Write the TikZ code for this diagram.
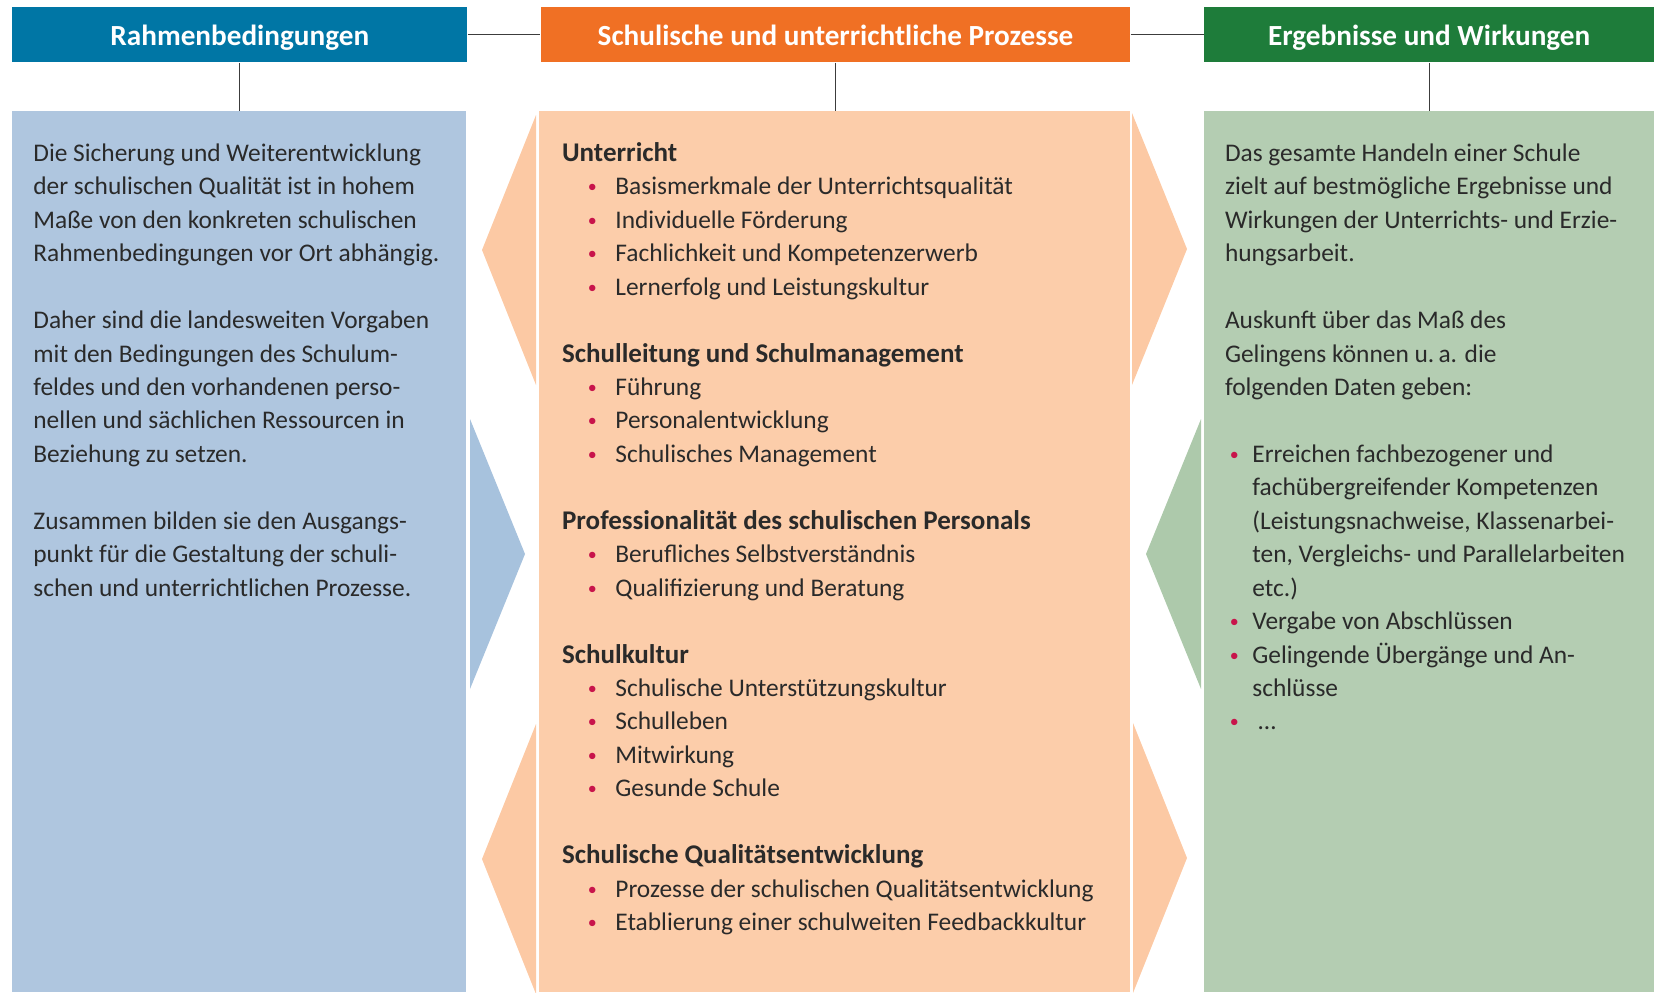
\documentclass[tikz,border=0pt]{standalone}
\usepackage{fontspec}
\setmainfont{Carlito}
\definecolor{hdrBlue}{RGB}{0,118,165}
\definecolor{hdrOrange}{RGB}{240,112,36}
\definecolor{hdrGreen}{RGB}{30,124,58}
\definecolor{bodyBlue}{RGB}{175,198,223}
\definecolor{bodyOrange}{RGB}{252,205,170}
\definecolor{bodyGreen}{RGB}{180,205,178}
\definecolor{arrBlue}{RGB}{167,194,221}
\definecolor{arrGreen}{RGB}{173,201,171}
\definecolor{arrOrange}{RGB}{252,201,164}
\definecolor{bul}{RGB}{200,20,75}
\definecolor{txtcol}{RGB}{42,42,42}
\definecolor{linecol}{RGB}{60,60,60}
% small coloured bullet centred at #1, item text starting at #2
\newcommand\blt[2]{\makebox[#2][l]{\makebox[2\dimexpr#1\relax][c]{\raisebox{1pt}{\fontsize{9}{8}\selectfont\textcolor{bul}{\textbullet}}}}}
% bold section heading
\newcommand\hd[1]{{\fontsize{13.5}{16.72}\selectfont\bfseries #1}}
\begin{document}
\begin{tikzpicture}[x=0.5pt,y=-0.5pt,
  hdr/.style={rectangle,inner sep=0pt,minimum height=27.5pt,text=white,
    text height=11.1pt,text depth=0.9pt,
    font=\fontsize{14.6}{16}\selectfont\bfseries},
  bodybox/.style={rectangle,inner sep=0pt,minimum height=440.5pt},
  conn/.style={draw=linecol,line width=0.6pt},
  txt/.style={anchor=north west,inner sep=0pt,align=left,text=txtcol,
    font=\fontsize{12.7}{16.72}\selectfont}]
\useasboundingbox (0,0) rectangle (1654,992);

% column bodies
\node[bodybox,fill=bodyBlue,minimum width=227.2pt] (bR) at (238.8,551.5) {};
\node[bodybox,fill=bodyOrange,minimum width=295.1pt] (bP) at (834.4,551.5) {};
\node[bodybox,fill=bodyGreen,minimum width=224.8pt] (bE) at (1429.2,551.5) {};

% arrow wedges between the columns
\fill[arrOrange] (536,115) -- (482,250) -- (536,385) -- cycle;
\fill[arrOrange] (536,724) -- (482,859) -- (536,994) -- cycle;
\fill[arrBlue] (470,419) -- (525,554) -- (470,689) -- cycle;
\fill[arrOrange] (1132,113) -- (1187,249) -- (1132,385) -- cycle;
\fill[arrOrange] (1133,723) -- (1187,858) -- (1133,993) -- cycle;
\fill[arrGreen] (1201,419) -- (1146,554) -- (1201,689) -- cycle;

% headers
\node[hdr,fill=hdrBlue,minimum width=227.5pt] (hR) at (239.8,34.8) {Rahmenbedingungen};
\node[hdr,fill=hdrOrange,minimum width=294.8pt] (hP) at (835.5,34.8) {Schulische und unterrichtliche Prozesse};
\node[hdr,fill=hdrGreen,minimum width=224.9pt] (hE) at (1429.2,34.8) {Ergebnisse und Wirkungen};

% connectors
\draw[conn] (hR.east) -- (hP.west);
\draw[conn] (hP.east) -- (hE.west);
\draw[conn] (hR.south) -- (hR.south |- bR.north);
\draw[conn] (hP.south) -- (hP.south |- bP.north);
\draw[conn] (hE.south) -- (hE.south |- bE.north);

% left column text
\node[txt] (tR) at (33,139) {\rule{0pt}{11pt}Die Sicherung und Weiterentwicklung\\
der schulischen Qualität ist in hohem\\
Maße von den konkreten schulischen\\
Rahmenbedingungen vor Ort abhängig.\\[16.72pt]
Daher sind die landesweiten Vorgaben\\
mit den Bedingungen des Schulum-\\
feldes und den vorhandenen perso-\\
nellen und sächlichen Ressourcen in\\
Beziehung zu setzen.\\[16.72pt]
Zusammen bilden sie den Ausgangs-\\
punkt für die Gestaltung der schuli-\\
schen und unterrichtlichen Prozesse.};

% middle column text
\node[txt] (tP) at (561.7,139) {\rule{0pt}{11pt}\hd{Unterricht}\\
\blt{15.15pt}{26.65pt}Basismerkmale der Unterrichtsqualität\\
\blt{15.15pt}{26.65pt}Individuelle Förderung\\
\blt{15.15pt}{26.65pt}Fachlichkeit und Kompetenzerwerb\\
\blt{15.15pt}{26.65pt}Lernerfolg und Leistungskultur\\[16.72pt]
\hd{Schulleitung und Schulmanagement}\\
\blt{15.15pt}{26.65pt}Führung\\
\blt{15.15pt}{26.65pt}Personalentwicklung\\
\blt{15.15pt}{26.65pt}Schulisches Management\\[16.72pt]
\hd{Professionalität des schulischen Personals}\\
\blt{15.15pt}{26.65pt}Berufliches Selbstverständnis\\
\blt{15.15pt}{26.65pt}Qualifizierung und Beratung\\[16.72pt]
\hd{Schulkultur}\\
\blt{15.15pt}{26.65pt}Schulische Unterstützungskultur\\
\blt{15.15pt}{26.65pt}Schulleben\\
\blt{15.15pt}{26.65pt}Mitwirkung\\
\blt{15.15pt}{26.65pt}Gesunde Schule\\[16.72pt]
\hd{Schulische Qualitätsentwicklung}\\
\blt{15.15pt}{26.65pt}Prozesse der schulischen Qualitätsentwicklung\\
\blt{15.15pt}{26.65pt}Etablierung einer schulweiten Feedbackkultur};

% right column text
\node[txt] (tE) at (1224.6,139) {\rule{0pt}{11pt}Das gesamte Handeln einer Schule\\
zielt auf bestmögliche Ergebnisse und\\
Wirkungen der Unterrichts- und Erzie-\\
hungsarbeit.\\[16.72pt]
Auskunft über das Maß des\\
Gelingens können u.\,a. die\\
folgenden Daten geben:\\[16.72pt]
\blt{4.7pt}{13.7pt}Erreichen fachbezogener und\\
\hspace*{13.7pt}fachübergreifender Kompetenzen\\
\hspace*{13.7pt}(Leistungsnachweise, Klassenarbei-\\
\hspace*{13.7pt}ten, Vergleichs- und Parallelarbeiten\\
\hspace*{13.7pt}etc.)\\
\blt{4.7pt}{13.7pt}Vergabe von Abschlüssen\\
\blt{4.7pt}{13.7pt}Gelingende Übergänge und An-\\
\hspace*{13.7pt}schlüsse\\
\blt{4.7pt}{13.7pt}\hspace*{3pt}…};
\end{tikzpicture}
\end{document}
